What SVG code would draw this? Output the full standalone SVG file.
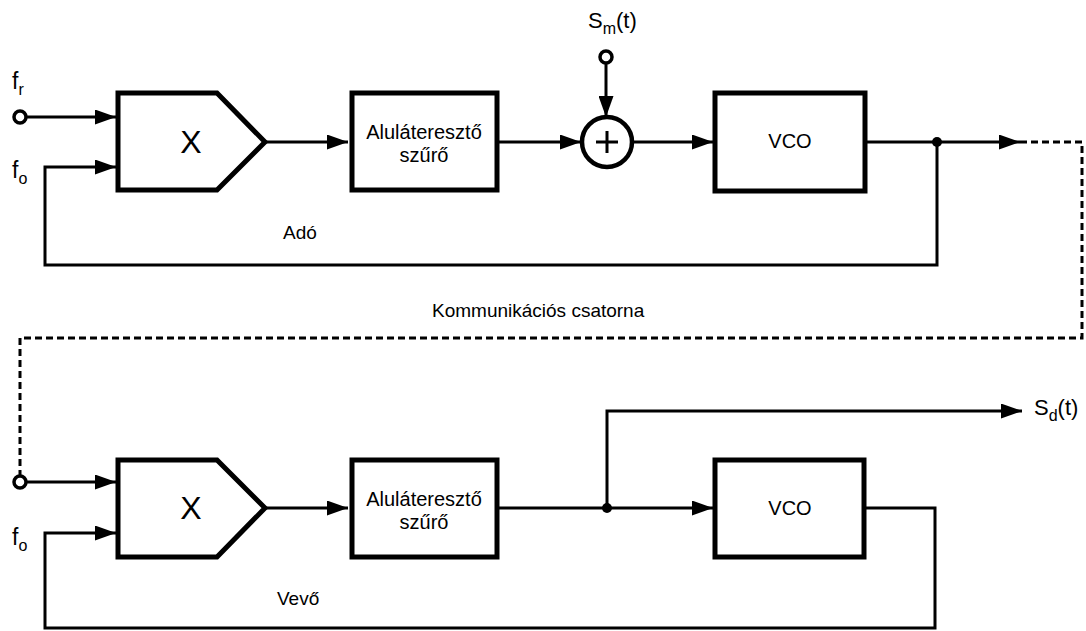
<svg xmlns="http://www.w3.org/2000/svg" width="1086" height="631" viewBox="0 0 1086 631">
<style>
.blk{fill:#fff;stroke:#000;stroke-width:5;stroke-linejoin:miter}
.w{fill:none;stroke:#000;stroke-width:3}
.d{fill:none;stroke:#000;stroke-width:3;stroke-dasharray:7 4}
.t{font-family:"Liberation Sans",Arial,sans-serif;fill:#000}
.dot{fill:#000}
.port{fill:#fff;stroke:#000;stroke-width:3.5}
</style>
<defs>
<marker id="ar" markerUnits="userSpaceOnUse" markerWidth="21" markerHeight="15" refX="21" refY="7.5" orient="auto">
<path d="M0,0 L21,7.5 L0,15 z" fill="#000"/>
</marker>
</defs>
<rect width="1086" height="631" fill="#fff"/>

<g id="connectors">
<line class="w" x1="20" y1="117" x2="116" y2="117" marker-end="url(#ar)"/>
<polyline class="w" points="937,142 937,265 45,265 45,167 116,167" marker-end="url(#ar)"/>
<line class="w" x1="265" y1="142" x2="348" y2="142" marker-end="url(#ar)"/>
<line class="w" x1="499" y1="142" x2="581" y2="142" marker-end="url(#ar)"/>
<line class="w" x1="606" y1="57" x2="606" y2="117" marker-end="url(#ar)"/>
<line class="w" x1="632" y1="142" x2="713" y2="142" marker-end="url(#ar)"/>
<line class="w" x1="867" y1="142" x2="1020" y2="142" marker-end="url(#ar)"/>
<polyline class="d" points="1020,142 1082,142 1082,338 20,338 20,476"/>
<line class="w" x1="20" y1="482" x2="116" y2="482" marker-end="url(#ar)"/>
<polyline class="w" points="866,508 935,508 935,628 45,628 45,533 116,533" marker-end="url(#ar)"/>
<line class="w" x1="265" y1="508" x2="348" y2="508" marker-end="url(#ar)"/>
<line class="w" x1="499" y1="508" x2="713" y2="508" marker-end="url(#ar)"/>
<polyline class="w" points="607,508 607,411 1022,411" marker-end="url(#ar)"/>
<circle class="dot" cx="937" cy="142" r="5"/>
<circle class="dot" cx="607" cy="508" r="5"/>
</g>

<g id="port-fr"><circle class="port" cx="20" cy="117" r="6"/></g>
<g id="port-sm"><circle class="port" cx="606" cy="57" r="6"/></g>
<g id="port-rx"><circle class="port" cx="20" cy="482" r="6"/></g>

<g id="mult-top">
<polygon class="blk" points="118,93 217,93 265,142 217,190 118,190"/>
<text class="t" x="191" y="153" font-size="32" text-anchor="middle">X</text>
</g>
<g id="lpf-top">
<rect class="blk" x="352" y="93" width="145" height="97"/>
<text class="t" x="424" y="139" font-size="20" text-anchor="middle">Aluláteresztő</text>
<text class="t" x="424" y="162" font-size="20" text-anchor="middle">szűrő</text>
</g>
<g id="sum">
<circle cx="607" cy="142" r="25" fill="#fff" stroke="#000" stroke-width="4.5"/>
<path d="M596,142 H618 M607,131 V153" stroke="#000" stroke-width="3" fill="none"/>
</g>
<g id="vco-top">
<rect class="blk" x="715" y="93" width="150" height="98"/>
<text class="t" x="790" y="148" font-size="20" text-anchor="middle">VCO</text>
</g>

<g id="mult-bot">
<polygon class="blk" points="118,460 217,460 265,508 217,557 118,557"/>
<text class="t" x="191" y="519" font-size="32" text-anchor="middle">X</text>
</g>
<g id="lpf-bot">
<rect class="blk" x="352" y="460" width="145" height="97"/>
<text class="t" x="424" y="506" font-size="20" text-anchor="middle">Aluláteresztő</text>
<text class="t" x="424" y="529" font-size="20" text-anchor="middle">szűrő</text>
</g>
<g id="vco-bot">
<rect class="blk" x="715" y="460" width="149" height="97"/>
<text class="t" x="790" y="515" font-size="20" text-anchor="middle">VCO</text>
</g>

<g id="labels">
<text class="t" x="12" y="89" font-size="23">f<tspan font-size="16" dy="6">r</tspan></text>
<text class="t" x="12" y="178" font-size="23">f<tspan font-size="16" dy="6">o</tspan></text>
<text class="t" x="12" y="545" font-size="23">f<tspan font-size="16" dy="6">o</tspan></text>
<text class="t" x="588" y="28" font-size="22">S<tspan font-size="16" dy="6">m</tspan><tspan dy="-6">(t)</tspan></text>
<text class="t" x="1034" y="415" font-size="22">S<tspan font-size="16" dy="6">d</tspan><tspan dy="-6">(t)</tspan></text>
<text class="t" x="283" y="239" font-size="19">Adó</text>
<text class="t" x="432" y="317" font-size="19">Kommunikációs csatorna</text>
<text class="t" x="277" y="605" font-size="19">Vevő</text>
</g>
</svg>
